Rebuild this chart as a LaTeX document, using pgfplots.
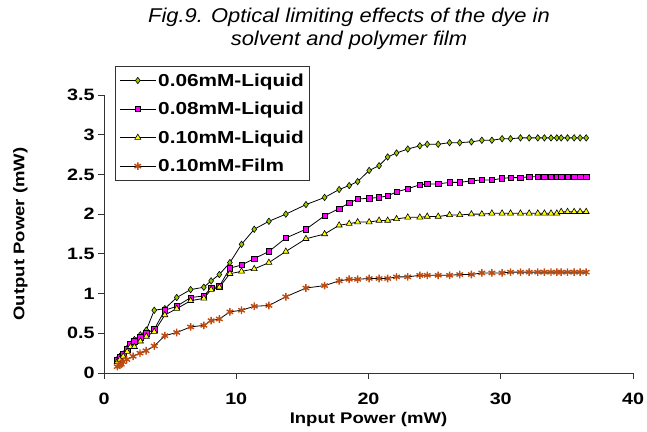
\documentclass[border=0pt]{standalone}
\usepackage{fontspec}
\setmainfont{Liberation Sans}
\newfontfamily\chartfont{Liberation Sans}[FakeStretch=1.2]
\newfontfamily\titlefont{Liberation Sans}[FakeStretch=1.1]
\usepackage{pgfplots}
\pgfplotsset{compat=1.18}

\definecolor{cA}{RGB}{153,204,0}
\definecolor{cB}{RGB}{255,0,255}
\definecolor{cC}{RGB}{255,255,0}
\definecolor{cD}{RGB}{190,75,15}

\pgfplotstableread{
x     a     b     c
1.0   0.17  0.16  0.14
1.2   0.21  0.20  0.17
1.45  0.24  0.24  0.21
1.75  0.31  0.30  0.27
2.0   0.36  0.37  0.33
2.3   0.42  0.40  0.33
2.75  0.48  0.45  0.40
3.2   0.54  0.50  0.46
3.8   0.79  0.55  0.52
4.6   0.81  0.79  0.73
5.5   0.95  0.84  0.81
6.55  1.05  0.95  0.91
7.55  1.08  0.97  0.94
8.1   1.16  1.07  1.05
8.72  1.24  1.09  1.08
9.52  1.39  1.32  1.25
10.4  1.62  1.36  1.28
11.36 1.81  1.44  1.31
12.47 1.91  1.53  1.39
13.75 2.00  1.70  1.53
15.27 2.12  1.81  1.69
16.68 2.21  1.98  1.75
17.78 2.31  2.07  1.86
18.54 2.36  2.14  1.88
19.18 2.41  2.19  1.90
20.05 2.55  2.20  1.90
20.8  2.61  2.21  1.92
21.45 2.72  2.23  1.92
22.12 2.77  2.28  1.94
22.97 2.82  2.32  1.96
23.88 2.86  2.37  1.96
24.44 2.88  2.38  1.97
25.27 2.88  2.38  1.97
26.13 2.90  2.40  1.99
26.9  2.90  2.40  1.99
27.78 2.91  2.42  2.00
28.57 2.93  2.43  2.00
29.33 2.93  2.43  2.01
30.1  2.95  2.45  2.01
30.74 2.95  2.46  2.01
31.49 2.96  2.46  2.01
32.15 2.96  2.47  2.01
32.8  2.96  2.47  2.01
33.3  2.96  2.47  2.01
33.8  2.96  2.47  2.01
34.24 2.96  2.47  2.01
34.57 2.96  2.47  2.03
35.05 2.96  2.47  2.03
35.55 2.96  2.47  2.03
36.0  2.96  2.47  2.03
36.46 2.96  2.47  2.03
}\liquid

\pgfplotstableread{
x     y
1.0   0.08
1.16  0.10
1.3   0.11
1.45  0.14
1.72  0.17
2.2   0.21
2.72  0.25
3.18  0.28
3.8   0.34
4.6   0.47
5.5   0.51
6.55  0.58
7.55  0.60
8.1   0.66
8.72  0.68
9.52  0.77
10.4  0.79
11.36 0.84
12.47 0.85
13.75 0.96
15.27 1.07
16.68 1.10
17.78 1.16
18.54 1.18
19.18 1.18
20.05 1.19
20.8  1.19
21.45 1.19
22.12 1.21
22.97 1.21
23.88 1.23
24.44 1.23
25.27 1.23
26.13 1.23
26.9  1.24
27.78 1.24
28.57 1.26
29.33 1.26
30.1  1.26
30.74 1.27
31.49 1.27
32.15 1.27
32.8  1.27
33.3  1.27
33.8  1.27
34.24 1.27
34.57 1.27
35.05 1.27
35.55 1.27
36.0  1.27
36.46 1.27
}\film

\begin{document}
\begin{tikzpicture}
\begin{axis}[
    at={(0,0)}, anchor=south west,
    scale only axis,
    width=529bp, height=278bp,
    xmin=0, xmax=40, ymin=0, ymax=3.5,
    xtick={0,10,20,30,40},
    ytick={0,0.5,1,1.5,2,2.5,3,3.5},
    axis x line=bottom, axis y line=left,
    axis line style={-, black!80, line width=0.8bp},
    tick align=outside, major tick length=6bp,
    tick style={black!80, line width=0.8bp},
    /pgf/number format/assume math mode=true,
    ticklabel style={font=\chartfont\bfseries\fontsize{16.5}{18}\selectfont},
    xticklabel style={yshift=-11bp},
    xlabel={Input Power (mW)},
    ylabel={Output Power (mW)},
    xlabel style={at={(axis description cs:0.5,-0.168)}, anchor=center,
        font=\chartfont\bfseries\fontsize{15.5}{17}\selectfont},
    ylabel style={at={(axis description cs:-0.158,0.5)}, anchor=center,
        font=\chartfont\bfseries\fontsize{15.5}{17}\selectfont},
    legend style={at={(axis description cs:0.0208,1.104)}, anchor=north west,
        draw=black!80, line width=0.8bp, fill=white,
        font=\chartfont\bfseries\fontsize{17.4}{19}\selectfont,
        row sep=10.5bp, inner xsep=4bp, inner ysep=5bp},
    legend cell align=left,
    legend image code/.code={
        \draw[mark repeat=2, mark phase=2] plot coordinates {(0bp,0bp) (18bp,0bp) (36bp,0bp)};
    },
    every axis plot/.append style={black, line width=0.8bp},
]
\addplot[mark=diamond*, mark size=3.2bp, mark options={fill=cA, draw=black, line width=0.6bp}]
    table[x=x, y=a] {\liquid};
\addlegendentry{0.06mM-Liquid}
\addplot[mark=square*, mark size=2.7bp, mark options={fill=cB, draw=black, line width=0.6bp}]
    table[x=x, y=b] {\liquid};
\addlegendentry{0.08mM-Liquid}
\addplot[mark=triangle*, mark size=3.5bp, mark options={fill=cC, draw=black, line width=0.6bp}]
    table[x=x, y=c] {\liquid};
\addlegendentry{0.10mM-Liquid}
\addplot[mark=asterisk, mark size=3.8bp, mark options={draw=cD, line width=1.4bp}]
    table[x=x, y=y] {\film};
\addlegendentry{0.10mM-Film}
\end{axis}
\node[align=center, font=\titlefont\itshape\fontsize{20}{23}\selectfont]
    at (245bp,344bp) {Fig.9. Optical limiting effects of the dye in\\solvent and polymer film};
\pgfresetboundingbox
\path[use as bounding box] (-104bp,-59bp) rectangle (543bp,373bp);
\end{tikzpicture}
\end{document}
